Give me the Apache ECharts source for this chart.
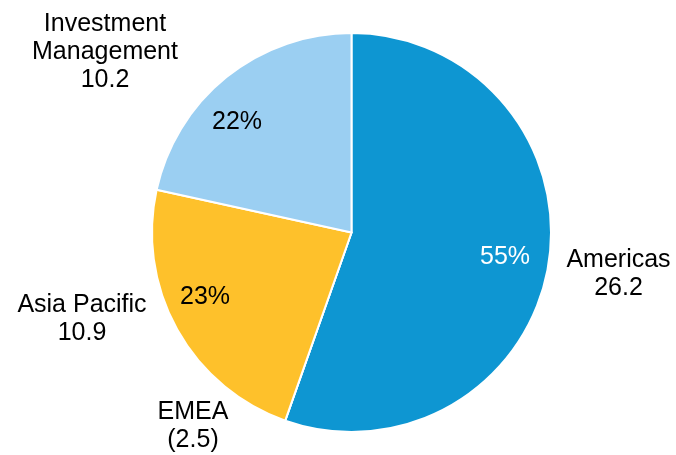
<!DOCTYPE html>
<html>
<head>
<meta charset="utf-8">
<script src="https://cdn.jsdelivr.net/npm/echarts@6/dist/echarts.min.js"></script>
<style>
  html, body { margin: 0; padding: 0; background: #ffffff; }
  #chart { width: 676px; height: 455px; }
</style>
</head>
<body>
<div id="chart"></div>
<script>
// ---- data ----
const categories = ['Americas', 'EMEA', 'Asia Pacific', 'Investment Management'];
const categoryLabels = ['Americas', 'EMEA', 'Asia Pacific', 'Investment\nManagement'];
const values = [26.2, -2.5, 10.9, 10.2];
const valueLabels = ['26.2', '(2.5)', '10.9', '10.2'];

// ---- styles / layout ----
const colors = ['#0E96D2', '#0E96D2', '#FEC12B', '#9BCFF2'];
const CX = 351.5, CY = 232.5, R = 199.5;
const nameLabelOffsets = [[267, 41.5], [-158.5, 193.5], [-269.5, 86.5], [-246.5, -180.5]];
const pctLabelOffsets = [[153.5, 24.5], [0, 0], [-146.5, 64.5], [-114.5, -110.5]];
const pctColors = ['#ffffff', '#000000', '#000000', '#000000'];
const FONT = 'Liberation Sans, Arial, sans-serif';
const FONT_SIZE = 25;

const pieData = categories.map((c, i) => ({
  name: c,
  value: Math.max(0, values[i]),
  itemStyle: { color: colors[i] },
  label: { color: pctColors[i] }
}));

const chart = echarts.init(document.getElementById('chart'), null, { renderer: 'canvas' });
chart.setOption({
  backgroundColor: '#ffffff',
  animation: false,
  series: [
    {
      type: 'pie',
      center: [CX, CY],
      radius: [0, R],
      startAngle: 90,
      clockwise: true,
      avoidLabelOverlap: false,
      silent: true,
      itemStyle: { borderColor: '#ffffff', borderWidth: 2 },
      label: {
        show: true,
        position: 'inside',
        fontFamily: FONT,
        fontSize: FONT_SIZE,
        formatter: p => (values[p.dataIndex] > 0 ? Math.round(p.percent) + '%' : '')
      },
      labelLine: { show: false },
      labelLayout: p => ({
        x: CX + pctLabelOffsets[p.dataIndex][0],
        y: CY + pctLabelOffsets[p.dataIndex][1],
        align: 'center',
        verticalAlign: 'middle'
      }),
      data: pieData
    },
    {
      type: 'pie',
      center: [CX, CY],
      radius: [0, R],
      startAngle: 90,
      clockwise: true,
      avoidLabelOverlap: false,
      silent: true,
      z: 3,
      itemStyle: { color: 'rgba(0,0,0,0)', borderWidth: 0 },
      label: {
        show: true,
        position: 'outside',
        fontFamily: FONT,
        fontSize: FONT_SIZE,
        lineHeight: 28,
        color: '#000000',
        align: 'center',
        formatter: p => categoryLabels[p.dataIndex] + '\n' + valueLabels[p.dataIndex]
      },
      labelLine: { show: false },
      labelLayout: p => ({
        x: CX + nameLabelOffsets[p.dataIndex][0],
        y: CY + nameLabelOffsets[p.dataIndex][1],
        align: 'center',
        verticalAlign: 'middle'
      }),
      data: categories.map((c, i) => ({ name: c, value: Math.max(0, values[i]) }))
    }
  ]
});
</script>
</body>
</html>
